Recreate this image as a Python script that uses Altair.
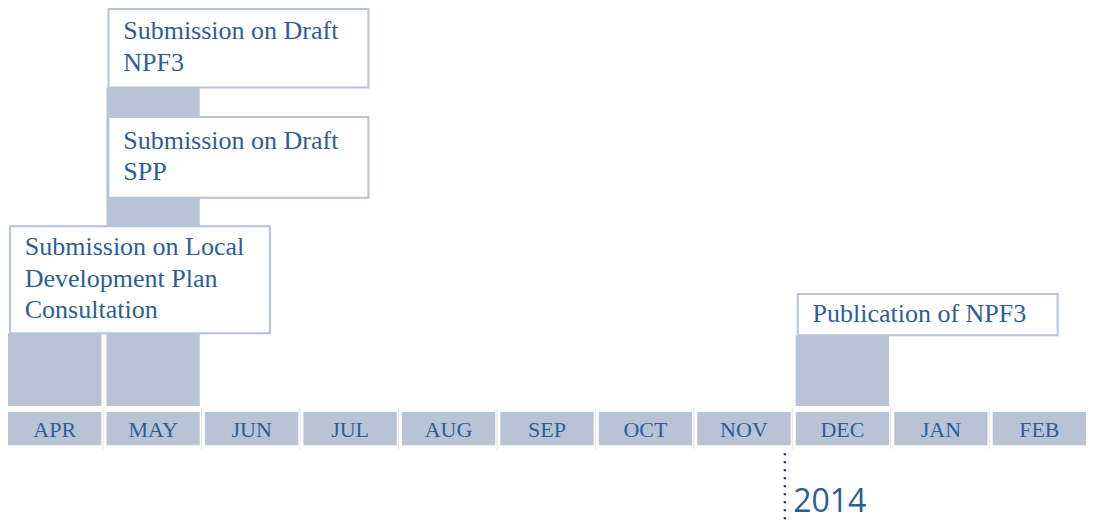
import altair as alt
import pandas as pd

# ---- data ----
months = ["APR", "MAY", "JUN", "JUL", "AUG", "SEP", "OCT", "NOV", "DEC", "JAN", "FEB"]

event_lines = [
    ["Submission on Local", "Development Plan", "Consultation"],
    ["Submission on Draft", "SPP"],
    ["Submission on Draft", "NPF3"],
    ["Publication of NPF3"],
]
event_month = [0, 1, 1, 8]
event_box_bottom = [74, 212, 324, 72]
event_box_top = [183, 294, 404, 114]

bar_month = [0, 1, 8]
bar_top = [74, 324, 72]

year_label = "2014"
year_pos = 7.89

# ---- styling ----
FILL = "#b8c4d6"
TEXT = "#2d5e98"
GRID = "#dfe4ec"
DOT = "#262b5e"
CELL_W = 0.948
BOX_W = 2.64

xs = alt.Scale(domain=[0, 10.968], nice=False, zero=False)
ys = alt.Scale(domain=[-119, 405], nice=False, zero=False)

months_df = pd.DataFrame({
    "m": months,
    "x0": list(range(len(months))),
})
months_df["x1"] = months_df["x0"] + CELL_W
months_df["xc"] = months_df["x0"] + CELL_W / 2
months_df["y0"] = -6
months_df["y1"] = -40
months_df["yt"] = -31

grid_df = pd.DataFrame({"x": [i - 0.035 for i in range(1, len(months))]})
grid_df["y0"] = -2
grid_df["y1"] = -44

bars_df = pd.DataFrame({"x0": bar_month, "top": bar_top})
bars_df["x1"] = bars_df["x0"] + CELL_W
bars_df["bottom"] = 0

boxes_df = pd.DataFrame({
    "m": event_month,
    "b": event_box_bottom,
    "t": event_box_top,
})
boxes_df["x0"] = boxes_df["m"] + 0.02
boxes_df["x1"] = boxes_df["x0"] + BOX_W

rows = []
for lines, m, b, t in zip(event_lines, event_month, event_box_bottom, event_box_top):
    c = (b + t) / 2
    n = len(lines)
    for k, ln in enumerate(lines):
        rows.append({"txt": ln, "x": m + 0.02 + 0.15, "y": c - 7 - (k - (n - 1) / 2) * 32})
text_df = pd.DataFrame(rows)

year_df = pd.DataFrame({"x": [year_pos], "y0": [-48], "y1": [-119], "lab": [year_label],
                        "xt": [year_pos + 0.084], "yt": [-108]})

grid = alt.Chart(grid_df).mark_rule(color=GRID, strokeWidth=1).encode(
    x=alt.X("x:Q", scale=xs, axis=None),
    y=alt.Y("y0:Q", scale=ys, axis=None),
    y2="y1:Q",
)

cells = alt.Chart(months_df).mark_rect(color=FILL).encode(
    x=alt.X("x0:Q", scale=xs, axis=None), x2="x1:Q",
    y=alt.Y("y0:Q", scale=ys, axis=None), y2="y1:Q",
)

cell_text = alt.Chart(months_df).mark_text(
    font="Liberation Serif", fontSize=22, color=TEXT, align="center", baseline="alphabetic"
).encode(
    x=alt.X("xc:Q", scale=xs, axis=None),
    y=alt.Y("yt:Q", scale=ys, axis=None),
    text="m:N",
)

bars = alt.Chart(bars_df).mark_rect(color=FILL).encode(
    x=alt.X("x0:Q", scale=xs, axis=None), x2="x1:Q",
    y=alt.Y("bottom:Q", scale=ys, axis=None), y2="top:Q",
)

boxes = alt.Chart(boxes_df).mark_rect(fill="white", stroke=FILL, strokeWidth=2).encode(
    x=alt.X("x0:Q", scale=xs, axis=None), x2="x1:Q",
    y=alt.Y("b:Q", scale=ys, axis=None), y2="t:Q",
)

box_text = alt.Chart(text_df).mark_text(
    font="Liberation Serif", fontSize=26, color=TEXT, align="left", baseline="alphabetic"
).encode(
    x=alt.X("x:Q", scale=xs, axis=None),
    y=alt.Y("y:Q", scale=ys, axis=None),
    text="txt:N",
)

dots = alt.Chart(year_df).mark_rule(color=DOT, strokeWidth=2.4, strokeDash=[2, 6]).encode(
    x=alt.X("x:Q", scale=xs, axis=None),
    y=alt.Y("y0:Q", scale=ys, axis=None),
    y2="y1:Q",
)

year_text = alt.Chart(year_df).mark_text(
    font="Open Sans", fontSize=32, color=TEXT, align="left", baseline="alphabetic"
).encode(
    x=alt.X("xt:Q", scale=xs, axis=None),
    y=alt.Y("yt:Q", scale=ys, axis=None),
    text="lab:N",
)

chart = alt.layer(grid, cells, cell_text, bars, boxes, box_text, dots, year_text).properties(
    width=1080, height=515, padding=0, autosize=alt.AutoSizeParams(type="none")
).configure_view(stroke=None)

chart.save("out.html", embed_options={"renderer": "svg", "actions": False})
